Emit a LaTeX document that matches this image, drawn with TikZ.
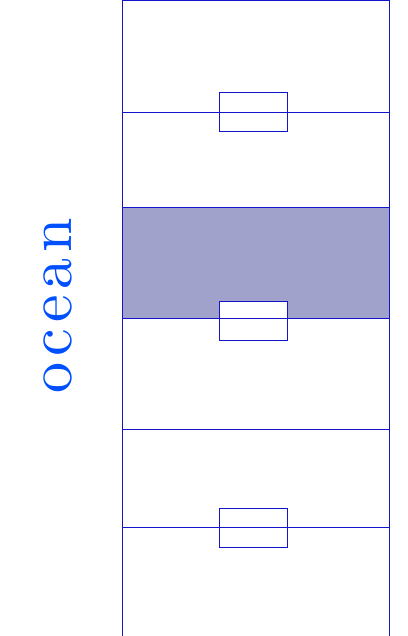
\documentclass[tikz,border=0pt]{standalone}
\usepackage{fontspec}
\usepackage{tikz}

\newfontfamily\oceanfont{lmroman10-regular}[Extension=.otf]

\definecolor{linecol}{RGB}{20,20,200}
\definecolor{bandcol}{RGB}{160,162,203}
\definecolor{oceancol}{RGB}{0,80,255}

\begin{document}
\begin{tikzpicture}[
  x=1pt, y=-1pt,
  layer/.style={draw=linecol, line width=1pt},
  plug/.style={rectangle, draw=linecol, fill=white, line width=1pt,
               minimum width=68pt, minimum height=39pt, inner sep=0pt},
  oceantext/.style={text=oceancol, inner sep=0pt, rotate=90,
                    font=\oceanfont\fontsize{62}{62}\selectfont}
]
\useasboundingbox (0,0) rectangle (407,636);

% shaded layer
\fill[bandcol] (122,208) rectangle (389,318);

% small boxes sitting on the boundaries
\node[plug] (p1) at (253,112.5) {};
\node[plug] (p2) at (253,320.5) {};
\node[plug] (p3) at (253,528) {};

% column outline and layer boundaries
\draw[layer] (122,636) -- (122,0.5) -- (389,0.5) -- (389,636);
\foreach \y in {113,208,318,429,527}
  \draw[layer] (122,\y) -- (389,\y);

\node[oceantext] (ocean) at (57.5,305.5) {o\kern6pt c\kern6pt e\kern6pt a\kern6pt n};
\end{tikzpicture}
\end{document}
